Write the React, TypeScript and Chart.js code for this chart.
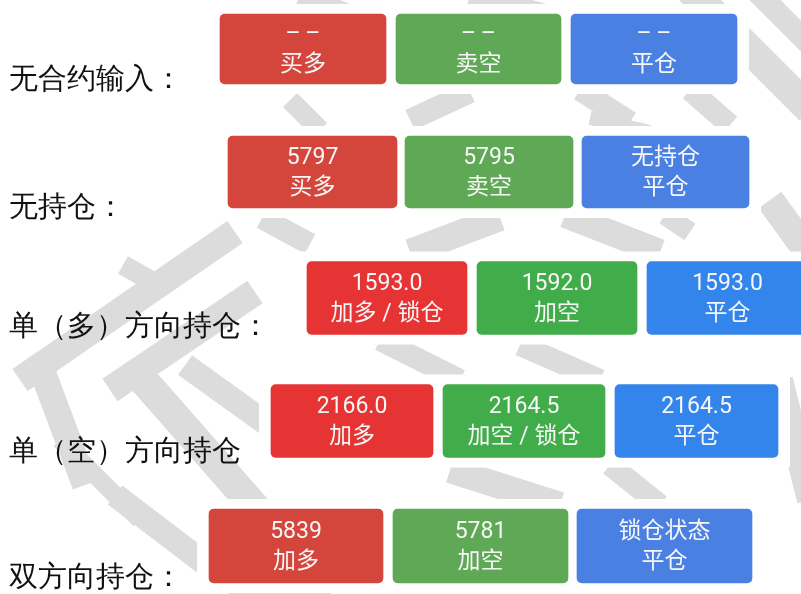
import React, { useEffect, useRef } from "react";
import { Chart, registerables } from "chart.js";

Chart.register(...registerables);

// Row labels (left side)
const rowLabels = ["无合约输入：", "无持仓：", "单（多）方向持仓：", "单（空）方向持仓", "双方向持仓："];
const rowLabelY = [80, 208, 327, 452, 578];

// Button rows: vertical centre and height
const rowCenterY = [49, 172, 298, 421, 546];
const rowHeight = [70, 72, 73, 73, 74];

// Button extents (floating bars)
const buyStart = [220, 228, 307, 271, 209];
const buyEnd = [386, 397, 467, 433, 383];
const sellStart = [396, 405, 477, 443, 393];
const sellEnd = [561, 573, 637, 605, 568];
const closeStart = [571, 582, 647, 615, 577];
const closeEnd = [737, 749, 808, 778, 752];

// Button texts
const buyPrice = ["–\u2009–", "5797", "1593.0", "2166.0", "5839"];
const buyAction = ["买多", "买多", "加多 / 锁仓", "加多", "加多"];
const sellPrice = ["–\u2009–", "5795", "1592.0", "2164.5", "5781"];
const sellAction = ["卖空", "卖空", "加空", "加空 / 锁仓", "加空"];
const closePrice = ["–\u2009–", "无持仓", "1593.0", "2164.5", "锁仓状态"];
const closeAction = ["平仓", "平仓", "平仓", "平仓", "平仓"];

// Colours per row
const buyColor = ["#d4453c", "#d4453c", "#e63334", "#e63334", "#d4453c"];
const sellColor = ["#5fa855", "#5fa855", "#40ad4a", "#40ad4a", "#5fa855"];
const closeColor = ["#4a80e2", "#4a80e2", "#3385ec", "#3385ec", "#4a80e2"];

// Decorative watermark strokes [x1, y1, x2, y2, width]
const watermark: number[][] = [
  [300, -5, 350, 16, 22],
  [470, -5, 545, 16, 24],
  [690, -10, 810, 110, 30],
  [755, -10, 810, 45, 22],
  [410, 120, 470, 92, 22],
  [580, 90, 630, 122, 22],
  [690, 90, 730, 125, 22],
  [290, 100, 320, 130, 20],
  [590, 118, 650, 132, 14],
  [410, 252, 500, 218, 26],
  [565, 215, 660, 252, 26],
  [665, 215, 690, 232, 20],
  [770, 200, 810, 255, 28],
  [235, 232, 20, 380, 27],
  [255, 292, 110, 390, 27],
  [123, 265, 162, 287, 20],
  [262, 218, 310, 244, 22],
  [40, 365, 85, 485, 26],
  [130, 365, 310, 570, 30],
  [185, 365, 310, 455, 24],
  [115, 495, 220, 575, 24],
  [60, 440, 140, 520, 18],
  [450, 470, 560, 505, 26],
  [610, 465, 660, 505, 22],
  [780, 380, 810, 500, 26],
  [380, 340, 460, 380, 22],
  [520, 345, 600, 380, 22],
  [230, 585, 330, 600, 18],
];

const labelPlugin = {
  id: "buttonText",
  beforeDatasetsDraw(chart: any) {
    const ctx = chart.ctx;
    ctx.save();
    ctx.strokeStyle = "#dcdcdc";
    ctx.lineCap = "butt";
    watermark.forEach((s) => {
      ctx.lineWidth = s[4];
      ctx.beginPath();
      ctx.moveTo(s[0], s[1]);
      ctx.lineTo(s[2], s[3]);
      ctx.stroke();
    });
    // white panels behind each row of buttons
    ctx.fillStyle = "#ffffff";
    chart.data.datasets.forEach((ds: any, i: number) => {
      const meta = chart.getDatasetMeta(i);
      let minX = Infinity;
      let maxX = -Infinity;
      let cy = 0;
      let h = 0;
      meta.data.forEach((el: any) => {
        const p = el.getProps(["x", "y", "base", "height"], true);
        minX = Math.min(minX, p.base, p.x);
        maxX = Math.max(maxX, p.base, p.x);
        cy = p.y;
        h = p.height;
      });
      ctx.fillRect(minX - 12, cy - h / 2 - 10, maxX - minX + 24, h + 20);
    });
    // row labels
    ctx.fillStyle = "#111111";
    ctx.font = "29px serif";
    ctx.textBaseline = "middle";
    ctx.textAlign = "left";
    rowLabels.forEach((t, i) => ctx.fillText(t, 9, rowLabelY[i]));
    ctx.restore();
  },
  afterDatasetsDraw(chart: any) {
    const ctx = chart.ctx;
    ctx.save();
    ctx.fillStyle = "#f7f7f7";
    ctx.textAlign = "center";
    ctx.textBaseline = "middle";
    ctx.font = "23px Roboto, 'Noto Sans CJK SC', sans-serif";
    chart.data.datasets.forEach((ds: any, i: number) => {
      const meta = chart.getDatasetMeta(i);
      meta.data.forEach((el: any, j: number) => {
        const p = el.getProps(["x", "y", "base"], true);
        const cx = (p.x + p.base) / 2;
        ctx.fillText(ds.priceText[j], cx, p.y - 14);
        ctx.fillText(ds.actionText[j], cx, p.y + 16);
      });
    });
    ctx.restore();
  },
};

export default function App() {
  const ref = useRef<HTMLCanvasElement | null>(null);
  useEffect(() => {
    document.body.style.margin = "0";
    if (!ref.current) return;
    const datasets = rowLabels.map((_, i) => ({
      label: rowLabels[i],
      data: [
        { x: [buyStart[i], buyEnd[i]], y: rowCenterY[i] },
        { x: [sellStart[i], sellEnd[i]], y: rowCenterY[i] },
        { x: [closeStart[i], closeEnd[i]], y: rowCenterY[i] },
      ],
      priceText: [buyPrice[i], sellPrice[i], closePrice[i]],
      actionText: [buyAction[i], sellAction[i], closeAction[i]],
      backgroundColor: [buyColor[i], sellColor[i], closeColor[i]],
      borderWidth: 0,
      borderRadius: 5,
      borderSkipped: false,
      barThickness: rowHeight[i],
      grouped: false,
    }));
    const chart = new Chart(ref.current, {
      type: "bar",
      data: { datasets } as any,
      options: {
        indexAxis: "y",
        animation: false,
        responsive: false,
        maintainAspectRatio: false,
        layout: { padding: 0 },
        plugins: { legend: { display: false }, tooltip: { enabled: false } },
        scales: {
          x: { type: "linear", min: 0, max: 801, offset: false, display: false },
          y: { type: "linear", min: 0, max: 594, reverse: true, offset: false, display: false },
        },
      },
      plugins: [labelPlugin],
    });
    return () => chart.destroy();
  }, []);
  return (
    <div style={{ width: 801, height: 594, background: "#ffffff" }}>
      <canvas ref={ref} width={801} height={594} style={{ display: "block" }} />
    </div>
  );
}
